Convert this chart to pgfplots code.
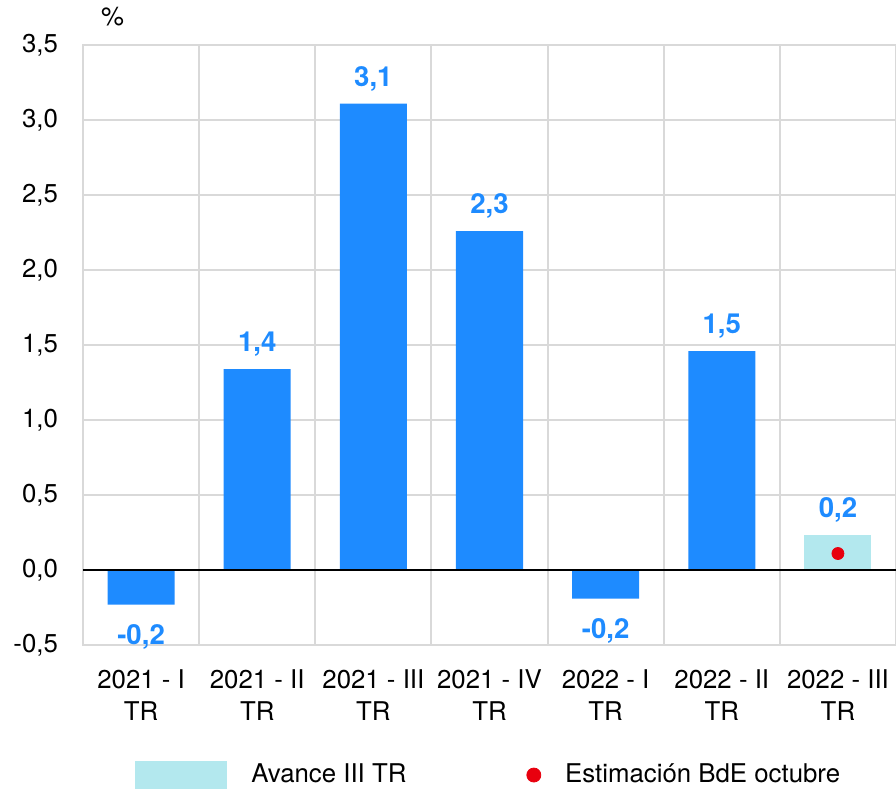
\documentclass[border=0pt]{standalone}
\usepackage{fontspec}
\setmainfont{TeX Gyre Heros}
\usepackage{pgfplots}
\pgfplotsset{compat=1.18}
\usepackage{pgfplotstable}
\usetikzlibrary{calc}
\definecolor{barblue}{RGB}{30,139,255}
\definecolor{avcyan}{RGB}{179,232,238}
\definecolor{gridgray}{RGB}{217,217,217}
\definecolor{dotred}{RGB}{232,0,14}

\pgfplotstableread{
x y lab
1 1.34 1,4
2 3.11 3,1
3 2.26 2,3
5 1.46 1,5
}\positive
\pgfplotstableread{
x y lab
0 -0.23 -0,2
4 -0.19 -0,2
}\negative
\pgfplotstableread{
x y lab
6 0.235 0,2
}\avance
\pgfplotstableread{
x y
6 0.11
}\estim

\newcommand{\lblfont}{\fontsize{12.9}{15.8}\selectfont}
\newcommand{\valfont}{\fontsize{13.8}{16}\selectfont\bfseries}

\begin{document}
\begin{tikzpicture}
\begin{axis}[
  name=ax,
  scale only axis,
  width=406.5pt, height=300pt,
  xmin=-0.5, xmax=6.5,
  ymin=-0.5, ymax=3.5,
  xtick={0,1,2,3,4,5,6},
  xticklabels={{2021 - I\\TR},{2021 - II\\TR},{2021 - III\\TR},{2021 - IV\\TR},{2022 - I\\TR},{2022 - II\\TR},{2022 - III\\TR}},
  minor xtick={-0.5,0.5,1.5,2.5,3.5,4.5,5.5,6.5},
  xminorgrids, ymajorgrids,
  ytick={-0.5,0,0.5,1,1.5,2,2.5,3,3.5},
  major tick length=0pt, minor tick length=0pt,
  grid style={draw=gridgray, line width=1pt},
  minor grid style={draw=gridgray, line width=1pt},
  axis line style={draw=gridgray, line width=1pt},
  /pgf/number format/.cd, fixed, fixed zerofill, precision=1, use comma, assume math mode=true,
  /pgfplots/.cd,
  yticklabel style={font=\lblfont, xshift=-9pt},
  xticklabel style={font=\lblfont, align=center, yshift=-9pt},
  title={\%},
  title style={at={(axis description cs:0.0363,1.0275)}, anchor=center, font=\lblfont},
  legend columns=2,
  legend style={draw=none, fill=none, at={(axis description cs:0.064,-0.2167)}, anchor=west,
    inner sep=0pt, font=\lblfont,
    nodes={inner sep=0pt},
    /tikz/every odd column/.append style={column sep=12pt},
    /tikz/every even column/.append style={column sep=60pt}},
]
\addplot[ybar, bar width=0.577, bar shift=0pt, fill=barblue, draw=none, forget plot,
  point meta=explicit symbolic,
  nodes near coords,
  nodes near coords style={font=\valfont, text=barblue, inner sep=0pt, text depth=0pt, anchor=south, yshift=8.5pt}]
  table[x=x, y=y, meta=lab] {\positive};
\addplot[ybar, bar width=0.577, bar shift=0pt, fill=barblue, draw=none, forget plot,
  point meta=explicit symbolic,
  nodes near coords,
  nodes near coords style={font=\valfont, text=barblue, inner sep=0pt, text depth=0pt, anchor=north, yshift=-10pt}]
  table[x=x, y=y, meta=lab] {\negative};
\addplot[ybar, bar width=0.577, bar shift=0pt, fill=avcyan, draw=none,
  point meta=explicit symbolic,
  nodes near coords,
  nodes near coords style={font=\valfont, text=barblue, inner sep=0pt, text depth=0pt, anchor=south, yshift=8.5pt},
  legend image code/.code={\fill[avcyan] (0pt,-7pt) rectangle (46pt,7pt);}]
  table[x=x, y=y, meta=lab] {\avance};
\addlegendentry{Avance III TR}
\addplot[only marks, mark=*, mark size=3pt, color=dotred,
  legend image code/.code={\fill[dotred] (3.5pt,0pt) circle (3.5pt);}]
  table[x=x, y=y] {\estim};
\addlegendentry{Estimación BdE octubre}
\draw[black, line width=1.2pt] (axis cs:-0.5,0) -- (axis cs:6.5,0);
\end{axis}
\pgfresetboundingbox
\path[use as bounding box] ($(ax.south west)+(-41.5pt,-72pt)$) rectangle ($(ax.north east)+(0pt,22.5pt)$);
\end{tikzpicture}
\end{document}
